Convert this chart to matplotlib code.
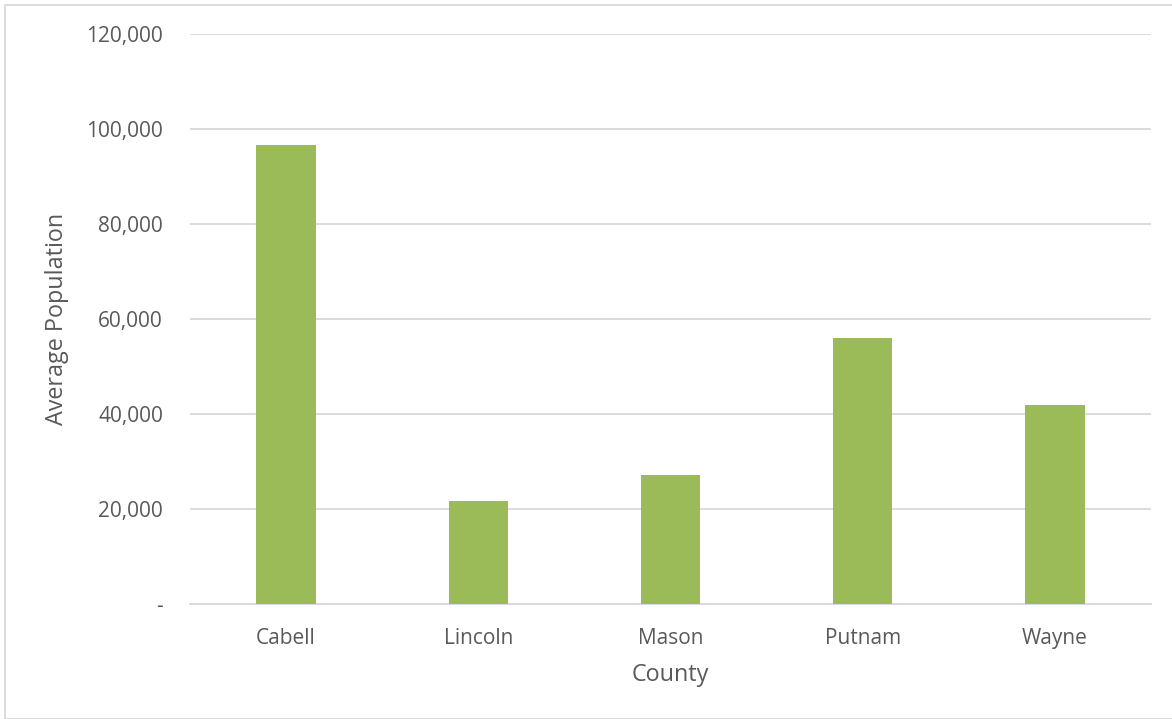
import matplotlib.pyplot as plt
from matplotlib.patches import Rectangle
from matplotlib.ticker import FuncFormatter

counties = ["Cabell", "Lincoln", "Mason", "Putnam", "Wayne"]
avg_population = [96600, 21700, 27200, 56000, 41900]

bar_color = "#9BBB59"
text_color = "#595959"
grid_color = "#D9D9D9"

plt.rcParams['font.family'] = ['Open Sans', 'DejaVu Sans']

fig = plt.figure(figsize=(11.72, 7.19), dpi=100)
ax = fig.add_axes([190 / 1172, 1 - 604 / 719, (1151 - 190) / 1172, (604 - 34) / 719])

x = range(len(counties))
ax.bar(x, avg_population, width=0.31, color=bar_color, zorder=3)

ax.set_xlim(-0.5, len(counties) - 0.5)
ax.set_ylim(0, 120000)
ax.set_yticks(range(0, 120001, 20000))
ax.yaxis.set_major_formatter(FuncFormatter(lambda v, p: "-" if v == 0 else f"{int(v):,}"))
ax.set_xticks(list(x))
ax.set_xticklabels(counties)

ax.grid(axis="y", color=grid_color, linewidth=1.3, zorder=0)
for s in ["top", "right", "left"]:
    ax.spines[s].set_visible(False)
ax.spines["bottom"].set_color(grid_color)
ax.spines["bottom"].set_linewidth(1.3)
ax.tick_params(axis="both", length=0, labelsize=15, colors=text_color)
ax.tick_params(axis="y", pad=19.5)
ax.tick_params(axis="x", pad=17.5)

ax.set_xlabel("County", fontsize=16.8, color=text_color)
ax.set_ylabel("Average Population", fontsize=16.8, color=text_color)
ax.xaxis.set_label_coords(0.5, -(675 - 604) / 570)
ax.xaxis.label.set_verticalalignment("center")
ax.yaxis.set_label_coords((57 - 190) / 961, 0.5)
ax.yaxis.label.set_verticalalignment("center")

# thin frame around the chart area
fig.patches.append(Rectangle((5 / 1172, 0), 1.1, 1 - 5 / 719, transform=fig.transFigure,
                             fill=False, edgecolor=grid_color, linewidth=1.3))

fig.savefig("out.png", dpi=100)
